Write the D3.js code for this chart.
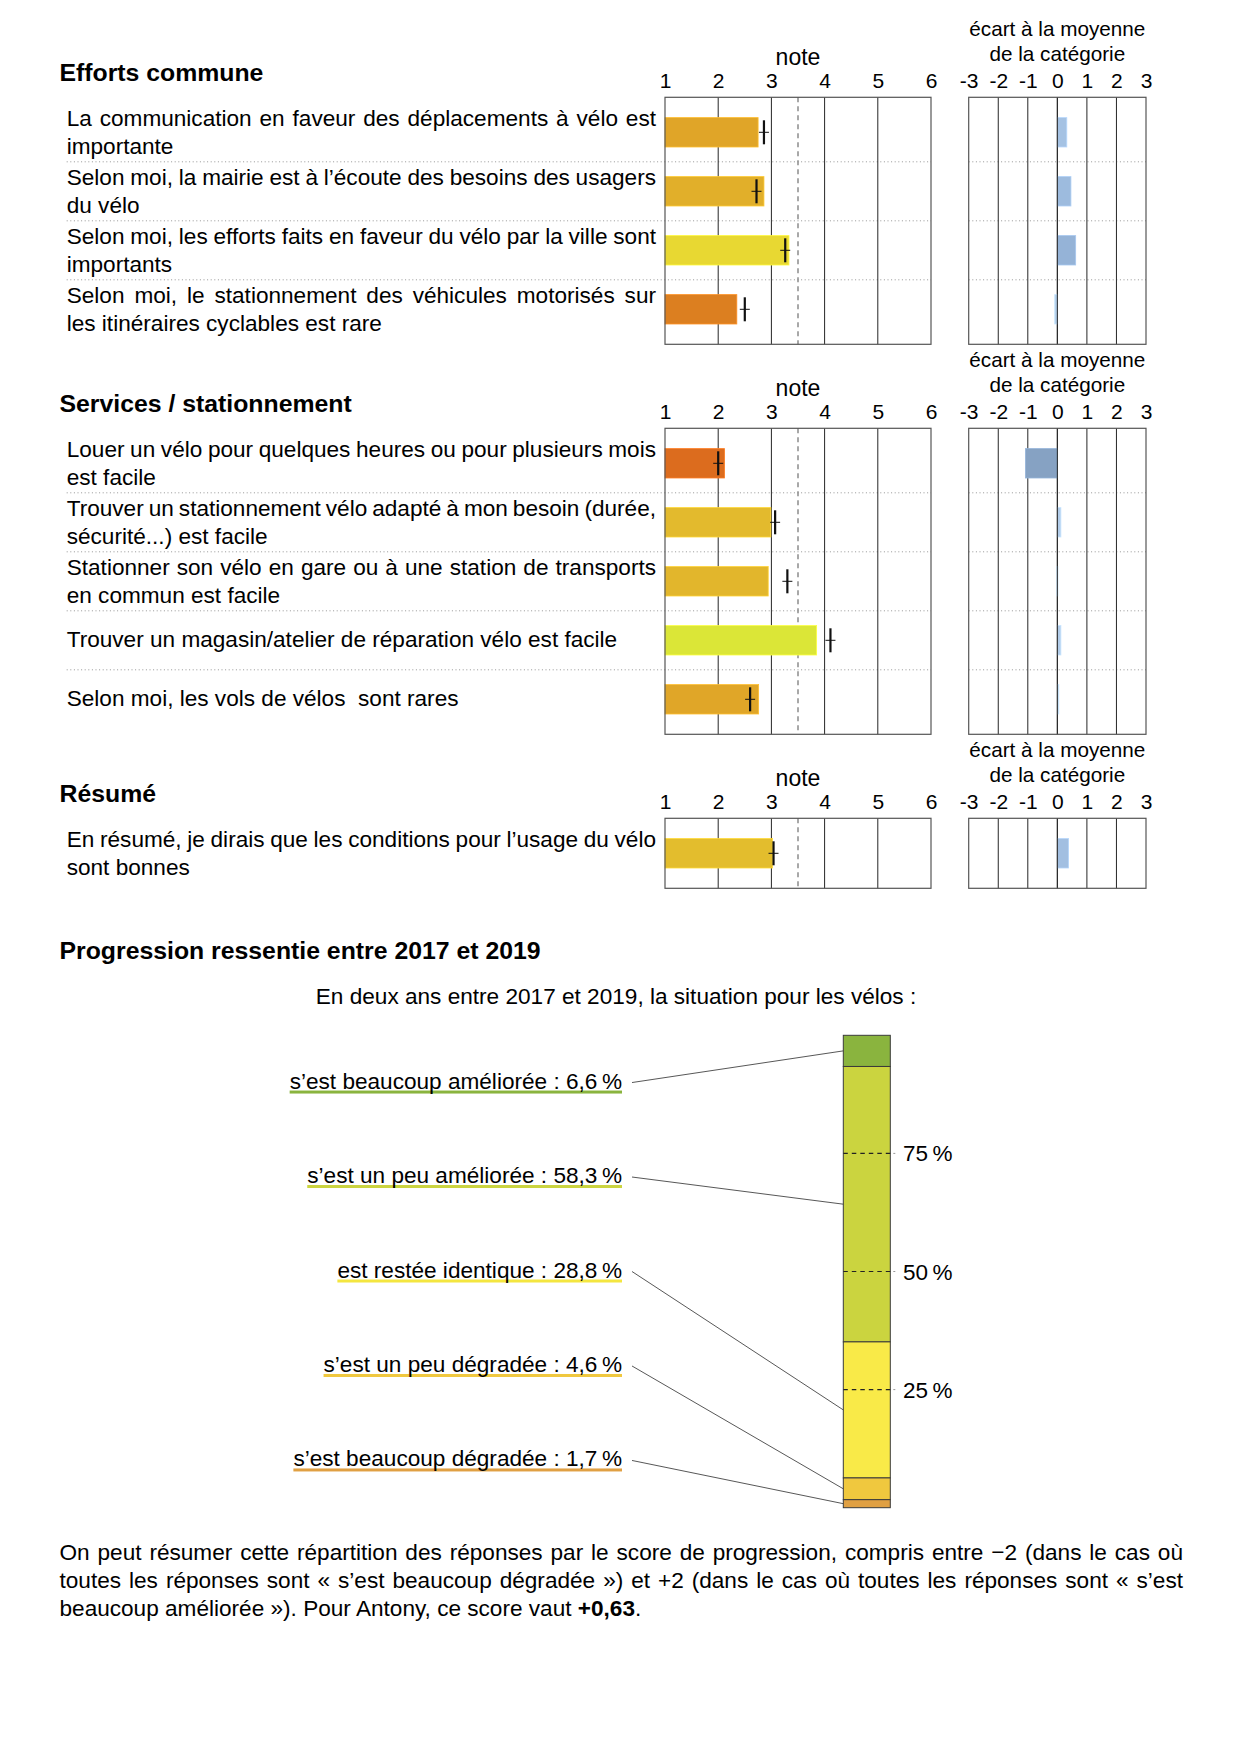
<!DOCTYPE html>
<html><head><meta charset="utf-8">
<script src="https://cdn.jsdelivr.net/npm/d3@7"></script>
<style>
body{margin:0;background:#fff}
svg{display:block}
text{font-family:"Liberation Sans",Arial,Helvetica,sans-serif;fill:#000}
</style>
</head><body>
<svg id="c" width="1240" height="1753"></svg>
<script>
// ---------------- DATA ----------------
const effortsLabels = [
  ["La communication en faveur des déplacements à vélo est", "importante"],
  ["Selon moi, la mairie est à l’écoute des besoins des usagers", "du vélo"],
  ["Selon moi, les efforts faits en faveur du vélo par la ville sont", "importants"],
  ["Selon moi, le stationnement des véhicules motorisés sur", "les itinéraires cyclables est rare"]
];
const effortsNotes  = [2.75, 2.86, 3.33, 2.35];
const effortsMarks  = [2.86, 2.72, 3.26, 2.50];
const effortsEcarts = [0.32, 0.46, 0.62, -0.09];

const servicesLabels = [
  ["Louer un vélo pour quelques heures ou pour plusieurs mois", "est facile"],
  ["Trouver un stationnement vélo adapté à mon besoin (durée,", "sécurité...) est facile"],
  ["Stationner son vélo en gare ou à une station de transports", "en commun est facile"],
  ["Trouver un magasin/atelier de réparation vélo est facile"],
  ["Selon moi, les vols de vélos  sont rares"]
];
const servicesNotes  = [2.12, 2.99, 2.94, 3.85, 2.76];
const servicesMarks  = [2.00, 3.07, 3.30, 4.11, 2.60];
const servicesEcarts = [-1.08, 0.12, -0.02, 0.12, 0.05];

const resumeLabels = [["En résumé, je dirais que les conditions pour l’usage du vélo", "sont bonnes"]];
const resumeNotes  = [3.02];
const resumeMarks  = [3.04];
const resumeEcarts = [0.38];

const sectionTitles = ["Efforts commune", "Services / stationnement", "Résumé"];
const noteTicks  = [1, 2, 3, 4, 5, 6];
const ecartTicks = [-3, -2, -1, 0, 1, 2, 3];
const noteReference = 3.5;

const progressionTitle = "Progression ressentie entre 2017 et 2019";
const progressionSubtitle = "En deux ans entre 2017 et 2019, la situation pour les vélos :";
const progressionLabels = ["s’est beaucoup améliorée", "s’est un peu améliorée", "est restée identique", "s’est un peu dégradée", "s’est beaucoup dégradée"];
const progressionValues = [6.6, 58.3, 28.8, 4.6, 1.7];
const progressionColors = ["#8ab43e", "#cbd43f", "#f9ea48", "#f0c83e", "#e0a043"];
const underlineColors   = ["#8ab43e", "#cbd43f", "#f4e640", "#f0c83e", "#e0a043"];
const percentTicks = [25, 50, 75];

const paragraphLines = [
  "On peut résumer cette répartition des réponses par le score de progression, compris entre −2 (dans le cas où",
  "toutes les réponses sont « s’est beaucoup dégradée ») et +2 (dans le cas où toutes les réponses sont « s’est"
];
const paragraphLastStart = "beaucoup améliorée »). Pour Antony, ce score vaut ";
const progressionScore = "+0,63";

(function () {
// ---------------- HELPERS ----------------
const svg = d3.select("#c");
const meas = svg.append("text").attr("visibility", "hidden");
function textWidth(s, size, weight) {
  meas.attr("font-size", size).attr("font-weight", weight || "normal").text(s);
  return meas.node().getComputedTextLength();
}
function justifiedLine(parent, str, x0, x1, y, size) {
  const words = str.split(" ");
  const widths = words.map(w => textWidth(w, size));
  const gap = (x1 - x0 - d3.sum(widths)) / (words.length - 1);
  const t = parent.append("text").attr("y", y).attr("font-size", size);
  let x = x0;
  words.forEach((w, i) => { t.append("tspan").attr("x", x).text(w); x += widths[i] + gap; });
  return t;
}
function plainLine(parent, str, x, y, size) {
  return parent.append("text").attr("x", x).attr("y", y).attr("font-size", size)
    .style("white-space", "pre").text(str);
}

// ---------------- SCALES ----------------
const noteX  = d3.scaleLinear().domain([1, 6]).range([665, 931]);
const ecartX = d3.scaleLinear().domain([-3, 3]).range([968.7, 1146]);
const noteColor = d3.scaleLinear()
  .domain([2.1, 2.35, 2.75, 3.0, 3.33, 3.85])
  .range(["#dc6a1e", "#dc7f20", "#e0a528", "#e3bb2d", "#e8d832", "#dbe637"])
  .clamp(true);
const ecartColor = d3.scaleLinear()
  .domain([0, 0.3, 0.6, 1.1])
  .range(["#bcd5f0", "#a6c3e4", "#96b4d8", "#85a1c2"])
  .clamp(true);

const sections = [
  {title: sectionTitles[0], labels: effortsLabels, notes: effortsNotes, marks: effortsMarks, ecarts: effortsEcarts},
  {title: sectionTitles[1], labels: servicesLabels, notes: servicesNotes, marks: servicesMarks, ecarts: servicesEcarts},
  {title: sectionTitles[2], labels: resumeLabels, notes: resumeNotes, marks: resumeMarks, ecarts: resumeEcarts}
];

const STEP = 59, PAD = 35, GAP = 84, BAR_H = 29.4;
const TEXT_X0 = 66.7, TEXT_X1 = 656, BODY = 22.6, TITLE = 24.8;
let panelTop = 97.3;

sections.forEach(sec => {
  const n = sec.notes.length;
  const top = panelTop;
  const bottom = top + STEP * (n - 1) + 2 * PAD;
  const y = d3.scalePoint().domain(d3.range(n)).range([top, bottom]).padding(PAD / STEP);
  const g = svg.append("g");

  g.append("text").attr("x", 59.5).attr("y", top - 16.5).attr("font-size", TITLE)
    .attr("font-weight", "bold").text(sec.title);

  g.append("text").attr("x", (noteX.range()[0] + noteX.range()[1]) / 2).attr("y", top - 32)
    .attr("text-anchor", "middle").attr("font-size", 23).text("note");
  const ec = (ecartX.range()[0] + ecartX.range()[1]) / 2;
  g.append("text").attr("x", ec).attr("y", top - 61).attr("text-anchor", "middle")
    .attr("font-size", 20.7).text("écart à la moyenne");
  g.append("text").attr("x", ec).attr("y", top - 36).attr("text-anchor", "middle")
    .attr("font-size", 20.7).text("de la catégorie");

  const ax1 = g.append("g").attr("transform", `translate(0,${top})`)
    .call(d3.axisTop(noteX).tickValues(noteTicks).tickSize(0).tickPadding(9).tickFormat(d3.format("d")));
  const ax2 = g.append("g").attr("transform", `translate(0,${top})`)
    .call(d3.axisTop(ecartX).tickValues(ecartTicks).tickSize(0).tickPadding(9).tickFormat(d => d < 0 ? "-" + Math.abs(d) : d));
  [ax1, ax2].forEach(a => {
    a.select(".domain").remove();
    a.attr("font-family", null).attr("font-size", null);
    a.selectAll("text").attr("font-size", 21).attr("fill", "#000");
  });

  for (let i = 0; i < n - 1; i++) {
    const ys = (y(i) + y(i + 1)) / 2;
    [[TEXT_X0, noteX(6)], [ecartX(-3), ecartX(3)]].forEach(([a, b]) => {
      g.append("line").attr("x1", a).attr("x2", b).attr("y1", ys).attr("y2", ys)
        .attr("stroke", "#8a8a8a").attr("stroke-width", 0.9).attr("stroke-dasharray", "1,2.6");
    });
  }

  noteTicks.slice(1, -1).forEach(t => {
    g.append("line").attr("x1", noteX(t)).attr("x2", noteX(t)).attr("y1", top).attr("y2", bottom)
      .attr("stroke", "#262626").attr("stroke-width", 1);
  });
  g.append("line").attr("x1", noteX(noteReference)).attr("x2", noteX(noteReference))
    .attr("y1", top).attr("y2", bottom).attr("stroke", "#8c8c8c").attr("stroke-width", 1.5)
    .attr("stroke-dasharray", "5,4");
  ecartTicks.slice(1, -1).forEach(t => {
    g.append("line").attr("x1", ecartX(t)).attr("x2", ecartX(t)).attr("y1", top).attr("y2", bottom)
      .attr("stroke", "#262626").attr("stroke-width", 1);
  });

  sec.notes.forEach((v, i) => {
    g.append("rect").attr("x", noteX(1)).attr("y", y(i) - BAR_H / 2)
      .attr("width", noteX(v) - noteX(1)).attr("height", BAR_H)
      .attr("fill", noteColor(v)).attr("stroke", d3.color(noteColor(v)).brighter(0.4)).attr("stroke-width", 0.8);
  });
  sec.marks.forEach((v, i) => {
    g.append("line").attr("x1", noteX(v)).attr("x2", noteX(v)).attr("y1", y(i) - 12).attr("y2", y(i) + 12)
      .attr("stroke", "#111").attr("stroke-width", 2.2);
    g.append("line").attr("x1", noteX(v) - 5).attr("x2", noteX(v) + 5).attr("y1", y(i)).attr("y2", y(i))
      .attr("stroke", "#111").attr("stroke-width", 1);
  });
  sec.ecarts.forEach((v, i) => {
    const x0 = ecartX(Math.min(0, v)), w = Math.max(Math.abs(ecartX(v) - ecartX(0)), 1.2);
    g.append("rect").attr("x", x0).attr("y", y(i) - BAR_H / 2).attr("width", w).attr("height", BAR_H)
      .attr("fill", ecartColor(Math.abs(v))).attr("stroke", d3.color(ecartColor(Math.abs(v))).brighter(0.3))
      .attr("stroke-width", 0.8);
  });
  g.append("line").attr("x1", ecartX(0)).attr("x2", ecartX(0)).attr("y1", top).attr("y2", bottom)
    .attr("stroke", "#262626").attr("stroke-width", 1);

  g.append("rect").attr("x", noteX(1)).attr("y", top).attr("width", noteX(6) - noteX(1))
    .attr("height", bottom - top).attr("fill", "none").attr("stroke", "#555").attr("stroke-width", 1.2);
  g.append("rect").attr("x", ecartX(-3)).attr("y", top).attr("width", ecartX(3) - ecartX(-3))
    .attr("height", bottom - top).attr("fill", "none").attr("stroke", "#555").attr("stroke-width", 1.2);

  sec.labels.forEach((lines, i) => {
    if (lines.length === 2) {
      justifiedLine(g, lines[0], TEXT_X0, TEXT_X1, y(i) - 6, BODY);
      plainLine(g, lines[1], TEXT_X0, y(i) + 22, BODY);
    } else {
      plainLine(g, lines[0], TEXT_X0, y(i) + 7, BODY);
    }
  });

  panelTop = bottom + GAP;
});

// ---------------- PROGRESSION ----------------
const pg = svg.append("g");
pg.append("text").attr("x", 59.5).attr("y", 959).attr("font-size", TITLE).attr("font-weight", "bold").text(progressionTitle);
pg.append("text").attr("x", 616).attr("y", 1004).attr("font-size", BODY).attr("text-anchor", "middle").text(progressionSubtitle);

const yP = d3.scaleLinear().domain([0, 100]).range([1507.7, 1035.3]);
const BAR_X0 = 843.3, BAR_X1 = 890.3;
const segs = [];
let acc = 0;
for (let i = progressionValues.length - 1; i >= 0; i--) {
  segs[i] = {lo: acc, hi: acc + progressionValues[i]};
  acc += progressionValues[i];
}
segs.forEach((s, i) => {
  pg.append("rect").attr("x", BAR_X0).attr("y", yP(s.hi)).attr("width", BAR_X1 - BAR_X0)
    .attr("height", yP(s.lo) - yP(s.hi)).attr("fill", progressionColors[i])
    .attr("stroke", "#3a3a3a").attr("stroke-width", 1);
});
percentTicks.forEach(p => {
  pg.append("line").attr("x1", BAR_X0).attr("x2", BAR_X1).attr("y1", yP(p)).attr("y2", yP(p))
    .attr("stroke", "#222").attr("stroke-width", 1.2).attr("stroke-dasharray", "4.5,4");
  pg.append("line").attr("x1", BAR_X1 + 3).attr("x2", BAR_X1 + 5).attr("y1", yP(p)).attr("y2", yP(p))
    .attr("stroke", "#999").attr("stroke-width", 1);
  pg.append("text").attr("x", 903).attr("y", yP(p) + 8).attr("font-size", 22.5).text(p + "\u2009%");
});
const fmt = v => d3.format(".1f")(v).replace(".", ",");
const slot = (yP(0) - yP(100)) / progressionLabels.length;
progressionLabels.forEach((lab, i) => {
  const ay = yP(100) + (i + 0.5) * slot;
  const str = lab + "\u00a0: " + fmt(progressionValues[i]) + "\u2009%";
  const t = pg.append("text").attr("x", 622).attr("y", ay + 6).attr("font-size", BODY)
    .attr("text-anchor", "end").text(str);
  const w = t.node().getComputedTextLength();
  pg.insert("rect", "text").attr("x", 622 - w).attr("y", ay + 8).attr("width", w).attr("height", 3)
    .attr("fill", underlineColors[i]);
  const s = segs[i];
  pg.append("line").attr("x1", 632).attr("y1", ay).attr("x2", BAR_X0).attr("y2", yP((s.lo + s.hi) / 2))
    .attr("stroke", "#444").attr("stroke-width", 0.9);
});

// ---------------- PARAGRAPH ----------------
const para = svg.append("g");
paragraphLines.forEach((l, i) => justifiedLine(para, l, 59.5, 1183, 1560 + 28 * i, BODY));
const last = para.append("text").attr("x", 59.5).attr("y", 1616).attr("font-size", BODY);
last.append("tspan").text(paragraphLastStart);
last.append("tspan").attr("font-weight", "bold").text(progressionScore);
last.append("tspan").text(".");
meas.remove();
})();
</script>
</body></html>
